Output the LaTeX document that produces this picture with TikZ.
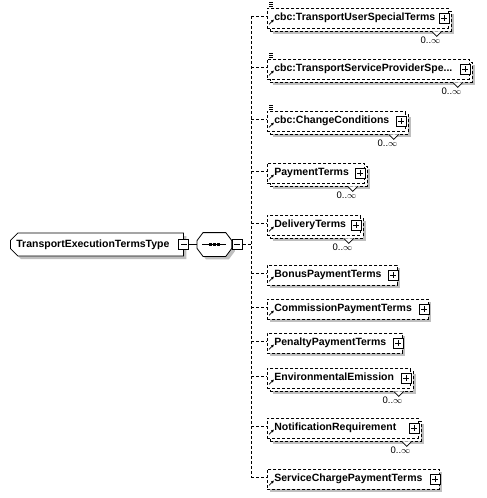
\documentclass[tikz,border=0pt]{standalone}
\usepackage{fontspec}
\setmainfont{Liberation Sans}
\usetikzlibrary{positioning,arrows.meta,shapes.misc,shadows}

\begin{document}
\begin{tikzpicture}[x=1pt, y=-1pt, line width=0.8pt,
                every node/.style={font=\bfseries\fontsize{10.5}{12}\selectfont, inner sep=0pt},
                flat/.style={drop shadow={shadow xshift=3pt, shadow yshift=-3pt, fill=black!25, opacity=1}},
                elem/.style={rectangle, draw, dash pattern=on 3pt off 2pt, fill=white, anchor=west, text width=#1,
                    align=left, inner xsep=7pt, minimum height=20pt, text height=8pt, text depth=2.5pt},
                single/.style={drop shadow={shadow xshift=3pt, shadow yshift=-3pt, fill=black!25, opacity=1}},
                multi/.style={drop shadow={shadow xshift=6pt, shadow yshift=-6pt, fill=black!25, opacity=1},
                    copy shadow={shadow xshift=3pt, shadow yshift=-3pt, draw, fill=white, opacity=1, dash pattern=on 3pt off 2pt}},
                root/.style={chamfered rectangle, chamfered rectangle corners={north west, south west},
                    chamfered rectangle xsep=4pt, draw, fill=white, anchor=west, minimum width=173pt, minimum height=23pt, flat},
                seqbox/.style={rectangle, anchor=west, minimum width=34pt, minimum height=23pt},
                sqbox/.style={rectangle, draw, solid, fill=white, minimum size=10pt, line width=0.7pt},
                minus/.style={sqbox, path picture={\draw ([xshift=2pt]path picture bounding box.west) -- ([xshift=-2pt]path picture bounding box.east);}},
                plus/.style={sqbox, anchor=east, path picture={
                    \draw ([xshift=2pt]path picture bounding box.west) -- ([xshift=-2pt]path picture bounding box.east);
                    \draw ([yshift=-2pt]path picture bounding box.north) -- ([yshift=2pt]path picture bounding box.south);}},
                mult/.style={font=\fontsize{9.5}{10}\selectfont, anchor=north east},
                conn/.style={draw, dash pattern=on 3pt off 2pt}
            ]
                \useasboundingbox (0,0) rectangle (487,498);

                \node[root] (type) at (10,244.5) {TransportExecutionTermsType\hspace*{8pt}};
                \node[minus] (typeminus) at (type.east) {};
                % sequence compositor
                \node[seqbox] (seq) at (197,244.5) {};
                \draw[fill=white, flat] ([xshift=6pt]seq.north west) -- ([xshift=-6pt]seq.north east)
                    -- ([yshift=-8pt]seq.north east) -- ([yshift=8pt]seq.south east)
                    -- ([xshift=-6pt]seq.south east) -- ([xshift=6pt]seq.south west)
                    -- ([yshift=8pt]seq.south west) -- ([yshift=-8pt]seq.north west) -- cycle;
                \draw ([xshift=-12pt]seq.center) -- ([xshift=12pt]seq.center);
                \foreach \dx in {-4,0,4}
                    \fill ([xshift=\dx pt]seq.center) +(-1.6,-1.6) rectangle +(1.6,1.6);
                \node[minus, anchor=west] (seqminus) at (seq.east) {};
                \coordinate (bus) at (251,244.5);
                \draw (typeminus) -- (seq);

                % child elements of the sequence
                \node[elem=167pt, multi] (c1) at (267,18) {cbc:TransportUserSpecialTerms};
                \node[elem=188pt, multi] (c2) at (267,69) {cbc:TransportServiceProviderSpe...};
                \node[elem=124pt, multi] (c3) at (267,121) {cbc:ChangeConditions};
                \node[elem=83pt, multi] (c4) at (267,173) {PaymentTerms};
                \node[elem=79pt, multi] (c5) at (267,225) {DeliveryTerms};
                \node[elem=116pt, single] (c6) at (267,275) {BonusPaymentTerms};
                \node[elem=147pt, single] (c7) at (267,309) {CommissionPaymentTerms};
                \node[elem=121pt, single] (c8) at (267,343) {PenaltyPaymentTerms};
                \node[elem=129pt, multi] (c9) at (267,378) {EnvironmentalEmission};
                \node[elem=137pt, multi] (c10) at (267,428) {NotificationRequirement};
                \node[elem=158pt, single] (c11) at (267,479) {ServiceChargePaymentTerms};

                \draw[conn] (seqminus.east) -- (bus);
                \draw[conn] ([yshift=2pt]bus |- c1.west) -- ([yshift=2pt]bus |- c11.west);
                \foreach \n in {1,...,11} {
                    \draw[conn] ([yshift=2pt]bus |- c\n.west) -- ([yshift=2pt]c\n.west);
                    \node[plus] (p\n) at ([xshift=1pt]c\n.east) {};
                    \draw[solid, line width=0.7pt, -{Latex[length=3pt,width=3pt]}] ([shift={(2,-4)}]c\n.south west) -- ++(5,-5);
                }
                % simple content marks
                \foreach \n in {1,2,3}
                    \foreach \dy in {-5,-3,-1}
                        \draw[solid, line width=0.6pt] ([shift={(2,\dy)}]c\n.north west) -- ++(4,0);
                % occurrence 0..unbounded
                \foreach \n in {1,2,3,4,5,9,10} {
                    \draw[solid, fill=white, line width=0.7pt] ([shift={(-17,3)}]c\n.south east) -- ++(5,5) -- ++(5,-5);
                    \node[mult] (m\n) at ([shift={(-8,8)}]c\n.south east) {0..$\infty$};
                }
            \end{tikzpicture}
\end{document}
